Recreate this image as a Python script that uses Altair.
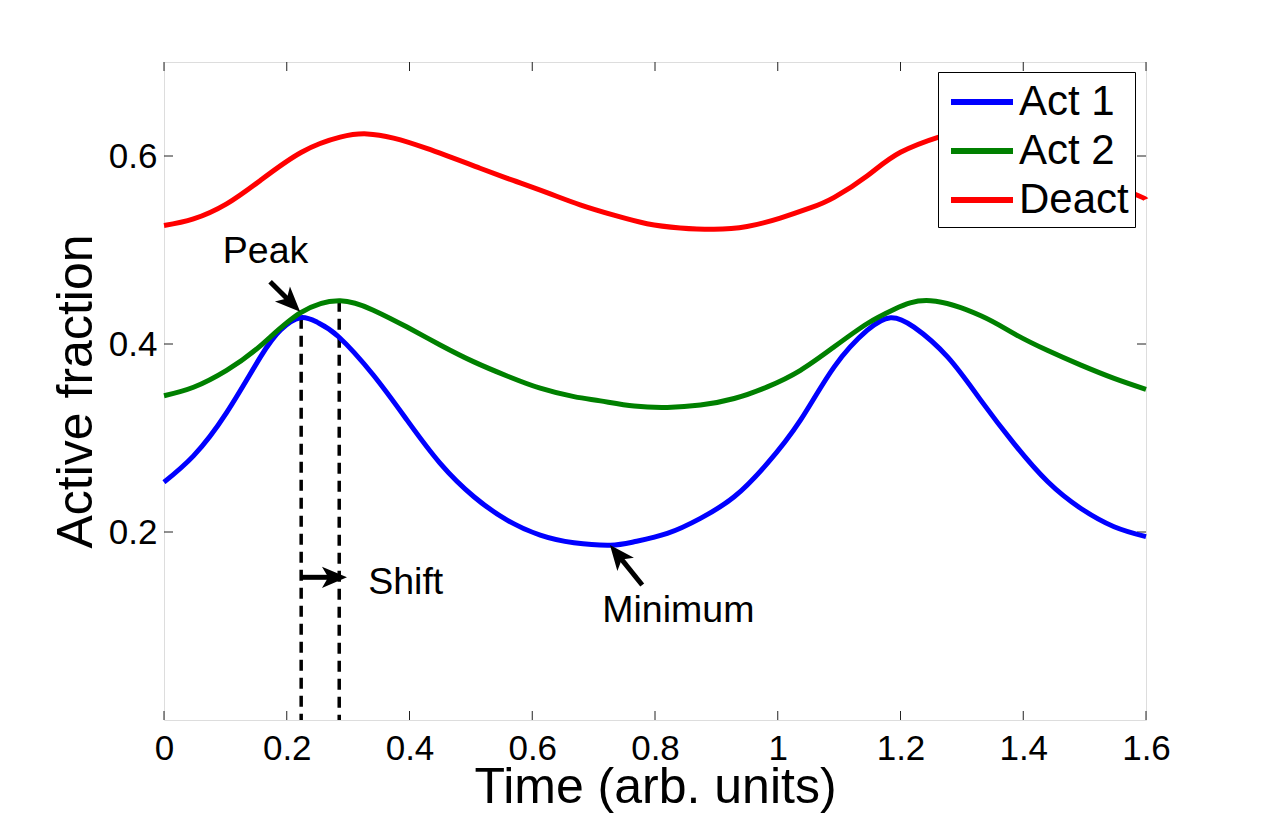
import math
import altair as alt
import pandas as pd

# ---------------- data ----------------
t_act1 = [0.000, 0.048, 0.102, 0.157, 0.190, 0.222, 0.250, 0.284, 0.341, 0.396,
          0.450, 0.505, 0.559, 0.613, 0.668, 0.727, 0.766, 0.820, 0.874, 0.929,
          0.983, 1.037, 1.092, 1.146, 1.184, 1.222, 1.277, 1.331, 1.385, 1.440,
          1.494, 1.548, 1.600]
act1 = [0.253, 0.281, 0.327, 0.386, 0.415, 0.428, 0.423, 0.408, 0.367, 0.319,
        0.273, 0.2375, 0.2127, 0.1967, 0.1886, 0.186, 0.1896, 0.1985, 0.2145, 0.2375,
        0.273, 0.319, 0.3757, 0.4147, 0.428, 0.418, 0.386, 0.340, 0.294, 0.2534,
        0.225, 0.2056, 0.195]

t_act2 = [0.000, 0.048, 0.102, 0.157, 0.222, 0.287, 0.341, 0.396, 0.450, 0.505,
          0.559, 0.613, 0.668, 0.711, 0.766, 0.820, 0.874, 0.929, 0.983, 1.037,
          1.092, 1.146, 1.190, 1.249, 1.331, 1.385, 1.440, 1.494, 1.548, 1.600]
act2 = [0.345, 0.354, 0.372, 0.398, 0.433, 0.446, 0.436, 0.418, 0.399, 0.381,
        0.366, 0.353, 0.344, 0.3395, 0.334, 0.3325, 0.335, 0.342, 0.3544, 0.372,
        0.397, 0.4218, 0.437, 0.446, 0.430, 0.411, 0.393, 0.3775, 0.3634, 0.3517]

t_deact = [0.000, 0.048, 0.102, 0.157, 0.224, 0.287, 0.331, 0.374, 0.428, 0.515,
           0.569, 0.624, 0.678, 0.733, 0.787, 0.841, 0.896, 0.950, 1.004, 1.054,
           1.092, 1.146, 1.200, 1.266, 1.293, 1.336, 1.390, 1.477, 1.531, 1.587,
           1.600]
deact = [0.526, 0.533, 0.549, 0.574, 0.604, 0.620, 0.6235, 0.619, 0.608, 0.587,
         0.574, 0.561, 0.548, 0.537, 0.528, 0.5235, 0.522, 0.525, 0.534, 0.545,
         0.556, 0.579, 0.604, 0.621, 0.6235, 0.619, 0.608, 0.587, 0.573, 0.558,
         0.554]

series_names = ["Act 1", "Act 2", "Deact"]
series_colors = ["#0000ff", "#008000", "#ff0000"]

x_ticks = [0, 0.2, 0.4, 0.6, 0.8, 1.0, 1.2, 1.4, 1.6]
y_ticks = [0.2, 0.4, 0.6]

# dashed marker lines (peak times of Act 1 and Act 2)
dash_t = [0.2235, 0.2855]
dash_top = [0.428, 0.446]

# annotation labels
ann_text = ["Peak", "Shift", "Minimum"]
ann_t = [0.1655, 0.3327, 0.838]
ann_v = [0.4858, 0.134, 0.1046]
ann_align = ["center", "left", "center"]

# arrows: tail -> tip
arrow_t0 = [0.1729, 0.2246, 0.7792]
arrow_v0 = [0.4663, 0.1518, 0.1436]
arrow_t1 = [0.2218, 0.2981, 0.7266]
arrow_v1 = [0.4344, 0.1518, 0.1862]

# ---------------- layout ----------------
W, H = 982, 658
X_DOM, Y_DOM = [0, 1.6], [0, 0.7]
kx, ky = W / 1.6, H / 0.7
FONT = "Liberation Sans"
HEAD = 25.0  # arrow head length in px

xs = alt.Scale(domain=X_DOM, nice=False, zero=False)
ys = alt.Scale(domain=Y_DOM, nice=False, zero=False)

lines_df = pd.concat([
    pd.DataFrame({"t": t_act1, "v": act1, "series": "Act 1"}),
    pd.DataFrame({"t": t_act2, "v": act2, "series": "Act 2"}),
    pd.DataFrame({"t": t_deact, "v": deact, "series": "Deact"}),
])

# legend symbol: a horizontal stroke 62px long with a compact entry box
SYM_S = (62 / 3.0) ** 2 * 4  # path spans -1.5..1.5 -> 3*sqrt(s)/2 = 62
lines = alt.Chart(lines_df).mark_line(strokeWidth=5, interpolate="natural").encode(
    x=alt.X("t:Q", scale=xs, axis=alt.Axis(
        values=x_ticks, format="~g", ticks=False, domain=False, grid=False,
        labelFont=FONT, labelFontSize=35, labelColor="black", labelPadding=11,
        labelOverlap=False, labelFlush=False, labelBound=False,
        title="Time (arb. units)", titleFont=FONT, titleFontSize=50,
        titleFontWeight="normal", titleColor="black",
        titleBaseline="alphabetic", titleY=82, titleX=W / 2, titleAlign="center")),
    y=alt.Y("v:Q", scale=ys, axis=alt.Axis(
        values=y_ticks, format="~g", ticks=False, domain=False, grid=False,
        labelFont=FONT, labelFontSize=35, labelColor="black", labelPadding=7,
        labelOverlap=False, labelBound=False,
        title="Active fraction", titleFont=FONT, titleFontSize=50,
        titleFontWeight="normal", titleColor="black", titleAngle=270,
        titleBaseline="alphabetic", titleX=-73, titleY=H / 2, titleAlign="center")),
    color=alt.Color("series:N", scale=alt.Scale(domain=series_names, range=series_colors),
                    legend=alt.Legend(
                        title=None, orient="none", legendX=774, legendY=10,
                        fillColor="white", strokeColor="black", padding=6,
                        symbolType="M-1.5,0L1.5,0", symbolSize=SYM_S,
                        symbolStrokeWidth=6, symbolOffset=14,
                        labelFont=FONT, labelFontSize=42, labelColor="black",
                        labelOffset=13, rowPadding=4)),
    order=alt.Order("t:Q"),
)

# inward tick marks on all four sides
xt = pd.DataFrame({"t": x_ticks})
yt = pd.DataFrame({"v": y_ticks})
tick_style = dict(color="#222222", strokeWidth=1)
tb = alt.Chart(xt).mark_rule(**tick_style).encode(
    x=alt.X("t:Q", scale=xs), y=alt.value(H), y2=alt.value(H - 9))
tt = alt.Chart(xt).mark_rule(**tick_style).encode(
    x=alt.X("t:Q", scale=xs), y=alt.value(0), y2=alt.value(9))
tl = alt.Chart(yt).mark_rule(**tick_style).encode(
    y=alt.Y("v:Q", scale=ys), x=alt.value(0), x2=alt.value(9))
tr = alt.Chart(yt).mark_rule(**tick_style).encode(
    y=alt.Y("v:Q", scale=ys), x=alt.value(W), x2=alt.value(W - 9))

# dashed vertical markers
dash_df = pd.DataFrame({"t": dash_t, "top": dash_top, "bottom": [0.0, 0.0]})
dashes = alt.Chart(dash_df).mark_rule(color="black", strokeWidth=3.5, strokeDash=[11, 7]).encode(
    x=alt.X("t:Q", scale=xs), y=alt.Y("top:Q", scale=ys), y2="bottom:Q")

# arrows
rows = []
for a, b, c, d in zip(arrow_t0, arrow_v0, arrow_t1, arrow_v1):
    dx = (c - a) * kx
    dy = -(d - b) * ky  # screen direction
    L = math.hypot(dx, dy)
    ux, uy = dx / L, dy / L
    ang = math.degrees(math.atan2(ux, -uy)) % 360
    ex = c - 0.6 * HEAD * ux / kx
    ey = d + 0.6 * HEAD * uy / ky
    rows.append({"t0": a, "v0": b, "t1": c, "v1": d, "te": ex, "ve": ey, "ang": ang})
arr_df = pd.DataFrame(rows)
shafts = alt.Chart(arr_df).mark_rule(color="black", strokeWidth=5, strokeCap="butt").encode(
    x=alt.X("t0:Q", scale=xs), y=alt.Y("v0:Q", scale=ys), x2="te:Q", y2="ve:Q")
heads = alt.Chart(arr_df).mark_point(
    shape="M0,0 L0.85,2 L0,1.5 L-0.85,2 Z", size=HEAD * HEAD, filled=True,
    color="black", opacity=1, strokeWidth=0).encode(
    x=alt.X("t1:Q", scale=xs), y=alt.Y("v1:Q", scale=ys), angle=alt.Angle("ang:Q", scale=None))

ann_df = pd.DataFrame({"t": ann_t, "v": ann_v, "text": ann_text, "align": ann_align})
txt_c = alt.Chart(ann_df).transform_filter(alt.datum.align == "center").mark_text(
    font=FONT, fontSize=37.5, color="black", align="center", baseline="alphabetic").encode(
    x=alt.X("t:Q", scale=xs), y=alt.Y("v:Q", scale=ys), text="text:N")
txt_l = alt.Chart(ann_df).transform_filter(alt.datum.align == "left").mark_text(
    font=FONT, fontSize=37.5, color="black", align="left", baseline="alphabetic").encode(
    x=alt.X("t:Q", scale=xs), y=alt.Y("v:Q", scale=ys), text="text:N")

chart = alt.layer(tb, tt, tl, tr, dashes, lines, shafts, heads, txt_c, txt_l).properties(
    width=W, height=H,
    padding={"left": 164, "top": 62, "right": 1267 - 164 - W, "bottom": 817 - 62 - H},
    autosize=alt.AutoSizeParams(type="none"),
).configure_view(stroke="black", strokeWidth=1.2).configure(background="white")

chart.save("out.html", embed_options={"renderer": "svg", "actions": False})
